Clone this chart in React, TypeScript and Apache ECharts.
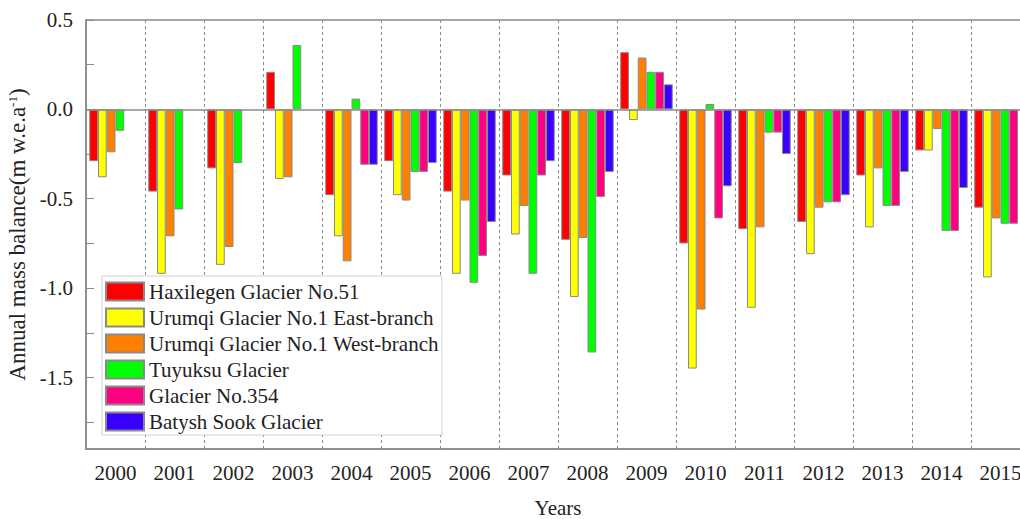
import React, { useEffect, useRef } from "react";
import * as echarts from "echarts";

const years = ["2000", "2001", "2002", "2003", "2004", "2005", "2006", "2007", "2008", "2009", "2010", "2011", "2012", "2013", "2014", "2015"];
const haxilegen = [-0.29, -0.46, -0.33, 0.21, -0.48, -0.29, -0.46, -0.37, -0.73, 0.32, -0.75, -0.67, -0.63, -0.37, -0.23, -0.55];
const urumqiEast = [-0.38, -0.92, -0.87, -0.39, -0.71, -0.48, -0.92, -0.70, -1.05, -0.06, -1.45, -1.11, -0.81, -0.66, -0.23, -0.94];
const urumqiWest = [-0.24, -0.71, -0.77, -0.38, -0.85, -0.51, -0.51, -0.54, -0.72, 0.29, -1.12, -0.66, -0.55, -0.33, -0.11, -0.61];
const tuyuksu = [-0.12, -0.56, -0.30, 0.36, 0.06, -0.35, -0.97, -0.92, -1.36, 0.21, 0.03, -0.13, -0.52, -0.54, -0.68, -0.64];
const no354 = [null, null, null, null, -0.31, -0.35, -0.82, -0.37, -0.49, 0.21, -0.61, -0.13, -0.52, -0.54, -0.68, -0.64];
const batysh = [null, null, null, null, -0.31, -0.30, -0.63, -0.29, -0.35, 0.14, -0.43, -0.25, -0.48, -0.35, -0.44, null];

const seriesNames = [
  "Haxilegen Glacier No.51",
  "Urumqi Glacier No.1 East-branch",
  "Urumqi Glacier No.1 West-branch",
  "Tuyuksu Glacier",
  "Glacier No.354",
  "Batysh Sook Glacier",
];
const seriesData = [haxilegen, urumqiEast, urumqiWest, tuyuksu, no354, batysh];
const colors = ["#ff0000", "#ffff00", "#ff8000", "#00ff00", "#ff0080", "#3a00ff"];
const yLabelValues = [0.5, 0, -0.5, -1, -1.5];
const yTickValues = [0.5, 0.25, 0, -0.25, -0.5, -0.75, -1, -1.25, -1.5, -1.75];

const FONT = "Liberation Serif";
const TXT = "#222";

export default function App() {
  const ref = useRef<HTMLDivElement>(null);
  useEffect(() => {
    const chart = echarts.init(ref.current!, null, { renderer: "svg" });
    const series: any[] = seriesNames.map((name, i) => ({
      name,
      type: "bar",
      data: seriesData[i],
      barGap: "0%",
      barCategoryGap: "11%",
      itemStyle: { color: colors[i], borderColor: "#8a8a8a", borderWidth: 1 },
    }));
    series[0].markLine = {
      silent: true,
      symbol: "none",
      label: { show: false },
      lineStyle: { color: "#8a8a8a", type: "solid", width: 1.5 },
      data: [{ yAxis: 0 }],
    };
    chart.setOption({
      animation: false,
      textStyle: { fontFamily: FONT },
      grid: {
        left: 86,
        top: 20,
        width: 944,
        height: 429,
        show: true,
        borderColor: "#8a8a8a",
        borderWidth: 1.5,
        containLabel: false,
        outerBoundsMode: "none",
      },
      legend: {
        orient: "vertical",
        left: 102,
        top: 276,
        padding: [5, 3, 3, 3],
        itemWidth: 38,
        itemHeight: 18,
        itemGap: 5,
        selectedMode: false,
        backgroundColor: "#fff",
        borderColor: "#d0d0d0",
        borderWidth: 1,
        icon: "rect",
        textStyle: { fontFamily: FONT, fontSize: 21, color: TXT, lineHeight: 21 },
        data: seriesNames,
      },
      xAxis: {
        type: "category",
        data: years,
        name: "Years",
        nameLocation: "middle",
        nameGap: 48,
        nameTextStyle: { fontFamily: FONT, fontSize: 21, color: TXT },
        axisLine: { onZero: false, lineStyle: { color: "#8a8a8a", width: 1.5 } },
        axisTick: { alignWithLabel: true, inside: true, length: 10, lineStyle: { color: "#8a8a8a" } },
        axisLabel: { fontFamily: FONT, fontSize: 21, color: TXT, margin: 13 },
        splitLine: { show: true, lineStyle: { color: "#8a8a8a", type: [3, 3], width: 1 } },
      },
      yAxis: {
        type: "value",
        min: -1.9,
        max: 0.5,
        name: "Annual mass balance(m w.e.a{sup|-1})",
        nameLocation: "middle",
        nameGap: 46,
        nameTextStyle: {
          fontFamily: FONT,
          fontSize: 23,
          color: TXT,
          rich: { sup: { fontFamily: FONT, fontSize: 13, color: TXT, verticalAlign: "top", padding: [0, 0, 9, 0] } },
        },
        axisLine: { show: true, lineStyle: { color: "#8a8a8a", width: 1.5 } },
        axisTick: { show: true, inside: true, length: 8, customValues: yTickValues, lineStyle: { color: "#8a8a8a" } },
        axisLabel: {
          fontFamily: FONT,
          fontSize: 21,
          color: TXT,
          margin: 13,
          customValues: yLabelValues,
          formatter: (v: number) => v.toFixed(1),
        },
        splitLine: { show: false },
      },
      series,
    });
    return () => chart.dispose();
  }, []);
  return (
    <div style={{ position: "absolute", left: 0, top: 0, width: 1020, height: 519, overflow: "hidden" }}>
      <div ref={ref} style={{ width: 1040, height: 519 }} />
    </div>
  );
}
